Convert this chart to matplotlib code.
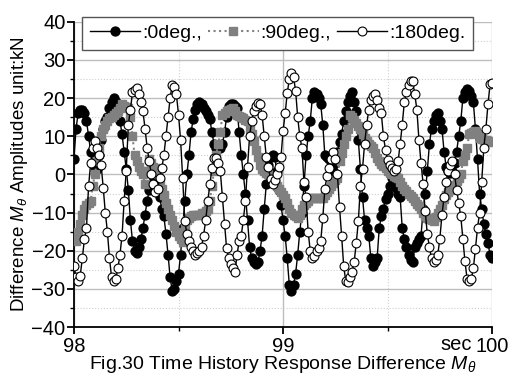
import matplotlib
matplotlib.use('Agg')
import matplotlib.pyplot as plt
import numpy as np
from matplotlib.ticker import MultipleLocator

plt.rcParams['font.family'] = ['Liberation Sans', 'DejaVu Sans']
plt.rcParams['mathtext.fontset'] = 'custom'
plt.rcParams['mathtext.rm'] = 'Liberation Sans'
plt.rcParams['mathtext.it'] = 'Liberation Sans:italic'

# sampled every 0.01 s from 98.00 to 100.00 s
t_start = 98.0
dt = 0.01

# 0 deg. (filled circles)
deg0 = [4, 12, 16, 17, 17, 16, 14, 10, 6, 3,
        2, 1.5, 5, 9, 12, 14, 15, 17.5, 19, 20,
        19, 18, 14, 10.5, 6, 1.5, -4, -12, -17.5, -20,
        -20.5, -19, -17, -14, -10.5, -7, -4, -2.5, -2, -2.5,
        -4, -6, -9, -11, -15.5, -21, -27, -30.5, -30, -28,
        -26, -21, -14, -7, 0, 5, 11, 14.5, 17, 18.5,
        19, 18.5, 17.5, 16.5, 15.5, 14.5, 11, 8, 7, 7,
        7, 8, 11, 15, 18, 18.5, 18.5, 18, 17.5, 11,
        5, 0, -5, -12, -19, -22, -23, -23.5, -23, -20,
        -16, -9, -2.5, 2.5, 4.5, 5, 4.5, 1, -4, -8,
        -12, -16, -22, -29, -30.5, -29, -26, -21, -15, -10,
        -3, 5, 10, 14, 20, 21.5, 21, 20, 18.5, 13,
        5, 4.5, 4, 2, 1, 3, 6, 8.5, 10.5, 14,
        16.5, 19, 20.5, 21.5, 19, 16.5, 9, 1.5, -6, -12,
        -14, -16, -22, -24, -23, -22, -14, -11, -9, -6.5,
        -5, -3, -1, -2, -3.5, -5, -6, -14, -17, -19,
        -21, -22.5, -23, -19, -18, -17, -16, -9, -5, 1,
        8, 12, 14, 15.5, 16, 14, 12, 6, 2, 0.8,
        0.5, 0.8, 3, 6, 10, 14, 20, 21.5, 22.5, 22,
        20.5, 19, 12, 4, -5, -9, -13, -15.5, -18, -21,
        -22]

# 90 deg. (grey squares)
deg90 = [-17, -17.5, -15, -13, -10.5, -9, -8, -7.5, -7, -3,
         0, 3.4, 7, 10, 12, 13, 14, 14.7, 15, 15.5,
         16, 16.5, 17.5, 18.4, 18, 17.7, 17.4, 15, 10, 5,
         3.4, 2, 1, 0, -2.6, 1, 4, 3, 2, 1.6,
         0, -2, -3.7, -5.5, -7.5, -9, -10.5, -12, -13.5, -15,
         -16, -17, -17.6, -14, -12, -11.5, -11, -10.5, -10.5, -10.5,
         -10.5, -10, -10, -9.5, -9, -7, -3, 1, 5, 8,
         11, 15.7, 16, 16.5, 17, 17.2, 17.4, 16.5, 15.7, 15.3,
         15, 14.7, 14.3, 14, 12, 10.5, 8.7, 6.5, 4.5, 2.6,
         1.5, 0.8, 0.3, 0, -0.5, -1, -2, -3, -3.7, -4.5,
         -5.5, -6.3, -7.5, -9, -10, -10.5, -11, -11.5, -10.5, -9,
         -8, -7.5, -7, -6.3, -6.3, -6.3, -6.3, -6.3, -6.3, -6.3,
         -5.5, -4.5, -3.7, -3, -2.3, -1.5, -1, 3.4, 5.5, 8,
         10, 12, 15.7, 15, 14.4, 13.5, 12.7, 12, 10.5, 9.5,
         8.8, 8, 7.5, 7, 5.5, 4.2, 3.5, 2.8, 2.2, 1.6,
         1, 0.5, 0, -0.3, -0.7, -1, -2, -3, -3.7, -4.3,
         -5, -5.6, -6.3, -7, -7.7, -8.3, -9, -10, -10.8, -11.5,
         -11.8, -12, -12.3, -11.2, -10, -9, -8, -6.5, -5.3, -4.7,
         -4.2, -3.7, -2.8, -1.8, -0.9, 0, 3.4, 5, 7, 10.5,
         10.8, 11, 11.3, 10.5, 9.5, 9.3, 9.1, 9, 8.8, 8.7,
         8.6]

# 180 deg. (open circles)
deg180 = [-24, -27, -28, -26.5, -22, -17, -14, -3, 3, 7,
          8.7, 7, 5, 2.5, -3.5, -10, -15, -22, -27, -28,
          -27.5, -24.6, -21, -16, -7, 1, 13, 17, 21.5, 22.2,
          22.6, 21, 19, 16.5, 12, 7, 3.5, 0, -2.5, -4.5,
          -3.7, -1, 1.6, 5, 10, 15, 20, 23.5, 23, 21,
          15.7, 9, -1, -12.3, -15.5, -17.5, -19, -20, -21, -20.5,
          -20, -19, -16, -12, -7, -2.6, 1.6, 4.2, 4.3, 3,
          0.8, -6, -13, -19.4, -22, -23.5, -24.6, -25.5, -21, -17.5,
          -16, -12, -7, 2, 10, 14, 16.5, 18, 18.6, 18.4,
          15.5, 10, 4.5, 2, -1.2, -2.6, -1.5, 0, 2, 4.5,
          11.3, 16, 21.3, 25, 26.5, 25.5, 22, 15, 10, 7,
          -2, -6, -15, -20, -22, -21.5, -20, -19.4, -17.5, -11.5,
          -3.7, -0.5, 1.8, 4, 6, 4, 0, -8.5, -16, -24,
          -28, -28.2, -27, -25.5, -23, -18, -12.3, -3, 1.5, 8,
          13, 17, 19.5, 20.5, 21, 19.5, 17.5, 16, 10, 6.5,
          3.8, 2.5, 1.6, 1, 1.5, 3.4, 7.9, 13, 19, 21.5,
          23.5, 24.4, 24.4, 21, 17, 9, 3, -2.6, -9.7, -15.7,
          -19, -22, -23, -22.5, -21, -16.8, -10.5, -6, -2, 0.8,
          2.5, 3.4, 0, -4, -7.5, -11, -17, -22.8, -27.3, -28,
          -27.5, -24.6, -19.5, -14, -10, -2, 7, 12, 18.4, 23.6,
          24]


def times(values):
    return t_start + dt * np.arange(len(values))


fig = plt.figure(figsize=(5.1, 3.83), dpi=100)
ax = fig.add_axes([0.145, 0.146, 0.82, 0.797])

ax.plot(times(deg0), deg0, '-o', color='black', mfc='black', mec='black',
        ms=6.4, lw=1, label=':0deg.,', zorder=3)
ax.plot(times(deg90), deg90, ':s', color='#808080', mfc='#808080',
        mec='#808080', ms=5.4, lw=1.5, label=':90deg.,', zorder=4)
ax.plot(times(deg180), deg180, '-o', color='black', mfc='white', mec='black',
        ms=6.4, mew=0.8, lw=1, label=':180deg.', zorder=5)

ax.set_xlim(98, 100)
ax.set_ylim(-40, 40)
ax.xaxis.set_major_locator(MultipleLocator(1))
ax.xaxis.set_minor_locator(MultipleLocator(0.5))
ax.yaxis.set_major_locator(MultipleLocator(10))
ax.yaxis.set_minor_locator(MultipleLocator(5))

ax.grid(which='major', color='#bdbdbd', lw=1, ls='-')
ax.grid(which='minor', color='#cfcfcf', lw=0.8, ls=':')
ax.set_axisbelow(True)

for s in ['top', 'right']:
    ax.spines[s].set_visible(False)
ax.spines['left'].set_linewidth(1.3)
ax.spines['bottom'].set_linewidth(1.3)

ax.tick_params(which='major', direction='out', length=5, width=1.3,
               labelsize=14.5, pad=1)
ax.tick_params(which='minor', direction='out', length=3, width=1)
ax.tick_params(axis='x', which='major', pad=2)

ax.set_ylabel(r'Difference $M_{\theta}$ Amplitudes unit:kN', fontsize=13.5,
              labelpad=1)
ax.set_xlabel(r'Fig.30 Time History Response Difference $M_{\theta}$',
              fontsize=14, labelpad=-1)
ax.text(99.83, -42.2, 'sec', fontsize=14.5, ha='center', va='top')

fig.legend(loc='upper left', bbox_to_anchor=(0.161, 0.956), ncol=3,
           fontsize=14, frameon=True, fancybox=False, edgecolor='#555555',
           framealpha=1, handlelength=2.6, handletextpad=0.1,
           columnspacing=0.3, borderpad=0.4, borderaxespad=0,
           numpoints=1)

fig.savefig('out.png', dpi=100)
